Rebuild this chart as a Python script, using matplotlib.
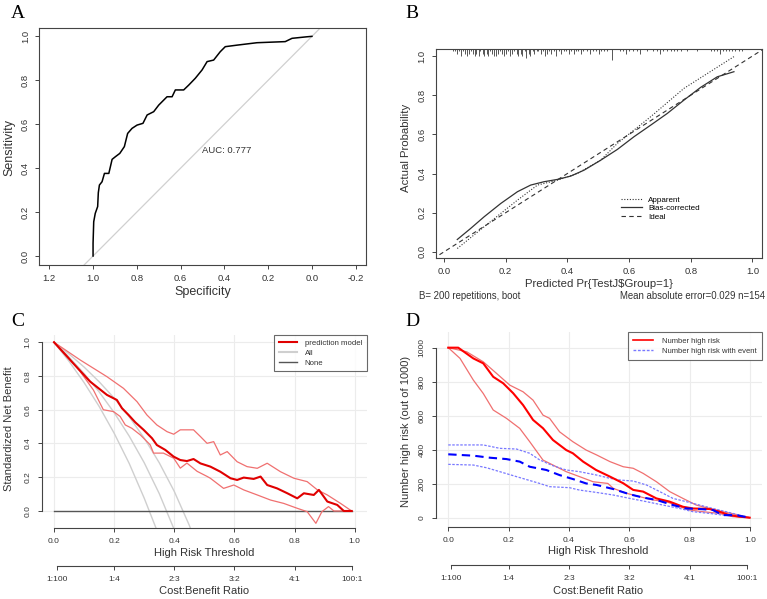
import numpy as np
import matplotlib.pyplot as plt
from matplotlib.transforms import blended_transform_factory

plt.rcParams['font.family'] = ['Liberation Sans', 'DejaVu Sans']

# ---- A: ROC curve ----
roc_spec = [1.0, 1.0, 0.997, 0.99, 0.979, 0.976, 0.971, 0.959, 0.948, 0.928, 0.913,
            0.898, 0.878, 0.857, 0.842, 0.822, 0.799, 0.772, 0.753, 0.723, 0.70, 0.677,
            0.662, 0.639, 0.624, 0.586, 0.563, 0.533, 0.502, 0.479, 0.449, 0.419, 0.396,
            0.342, 0.251, 0.122, 0.091, 0.023, 0.0]
roc_sens = [0.0, 0.058, 0.156, 0.194, 0.225, 0.288, 0.323, 0.338, 0.376, 0.376, 0.44,
            0.452, 0.467, 0.498, 0.558, 0.581, 0.596, 0.604, 0.642, 0.657, 0.687, 0.71,
            0.725, 0.725, 0.756, 0.756, 0.778, 0.809, 0.847, 0.885, 0.892, 0.93, 0.953,
            0.96, 0.971, 0.976, 0.991, 0.998, 1.0]
auc_label = "AUC: 0.777"

# ---- B: calibration curve ----
bias_x = [0.043, 0.086, 0.13, 0.184, 0.238, 0.281, 0.324, 0.368, 0.411, 0.454, 0.508,
          0.562, 0.616, 0.67, 0.724, 0.778, 0.832, 0.886, 0.94]
bias_y = [0.063, 0.119, 0.179, 0.247, 0.307, 0.341, 0.358, 0.37, 0.387, 0.417, 0.468,
          0.523, 0.588, 0.647, 0.707, 0.775, 0.84, 0.894, 0.92]
app_x = [0.043, 0.13, 0.238, 0.303, 0.368, 0.432, 0.508, 0.562, 0.67, 0.778, 0.94]
app_y = [0.017, 0.128, 0.264, 0.341, 0.366, 0.40, 0.468, 0.554, 0.69, 0.835, 0.997]
rug_pos = [0.030, 0.036, 0.042, 0.048, 0.055, 0.061, 0.067, 0.074, 0.080, 0.086, 0.093,
           0.099, 0.105, 0.112, 0.118, 0.125, 0.131, 0.138, 0.144, 0.150, 0.157, 0.163,
           0.170, 0.176, 0.183, 0.189, 0.196, 0.202, 0.209, 0.215, 0.222, 0.228, 0.235,
           0.241, 0.248, 0.254, 0.261, 0.267, 0.274, 0.280, 0.287, 0.293, 0.300, 0.306,
           0.313, 0.320, 0.327, 0.334, 0.341, 0.348, 0.356, 0.364, 0.372, 0.380, 0.388,
           0.396, 0.404, 0.412, 0.420, 0.428, 0.436, 0.444, 0.452, 0.462, 0.472, 0.482,
           0.492, 0.502, 0.510, 0.520, 0.530, 0.546, 0.571, 0.580, 0.590, 0.600, 0.612,
           0.625, 0.636, 0.657, 0.679, 0.690, 0.700, 0.710, 0.722, 0.735, 0.745, 0.756,
           0.768, 0.787, 0.820, 0.865, 0.875, 0.885, 0.895, 0.905, 0.915, 0.925, 0.935,
           0.945, 0.955, 0.965]
rug_cnt = [1, 1, 2, 1, 3, 1, 2, 3, 2, 1, 2, 3, 2, 3, 1, 2, 3, 2, 3, 1, 2, 3, 3, 2, 1, 2,
           3, 2, 1, 3, 2, 1, 2, 3, 2, 3, 1, 4, 2, 3, 1, 2, 1, 1, 2, 1, 3, 2, 1, 2, 1, 3,
           1, 2, 1, 1, 2, 1, 2, 1, 1, 2, 1, 1, 2, 1, 1, 2, 1, 1, 1, 5, 1, 1, 2, 1, 1, 1,
           2, 1, 1, 1, 2, 1, 1, 1, 1, 1, 1, 1, 1, 1, 1, 1, 2, 1, 1, 1, 1, 1, 1, 1]

# ---- C: decision curve ----
thr_all = [0.0, 0.05, 0.1, 0.15, 0.2, 0.25, 0.3, 0.35, 0.4, 0.45, 0.5]
snb_all_lo = [1.0, 0.887, 0.761, 0.62, 0.461, 0.282, 0.076, -0.15, None, None, None]
snb_all_mid = [1.0, 0.912, 0.815, 0.706, 0.583, 0.444, 0.286, 0.103, -0.111, None, None]
snb_all_hi = [1.0, 0.93, 0.853, 0.766, 0.669, 0.558, 0.432, 0.286, 0.116, -0.085, -0.33]

c_mid_t = [0.0, 0.064, 0.12, 0.176, 0.209, 0.226, 0.248, 0.27, 0.298, 0.326, 0.342, 0.37,
           0.398, 0.42, 0.442, 0.464, 0.487, 0.52, 0.553, 0.587, 0.609, 0.631, 0.664,
           0.687, 0.709, 0.742, 0.776, 0.809, 0.831, 0.864, 0.881, 0.909, 0.942, 0.964, 0.99]
c_mid_v = [1.0, 0.875, 0.767, 0.688, 0.658, 0.609, 0.569, 0.526, 0.481, 0.431, 0.391,
           0.362, 0.322, 0.302, 0.296, 0.308, 0.282, 0.263, 0.233, 0.194, 0.184, 0.198,
           0.19, 0.204, 0.154, 0.134, 0.105, 0.075, 0.105, 0.095, 0.125, 0.056, 0.036, 0.0, 0.0]
c_hi_t = [0.0, 0.087, 0.176, 0.231, 0.276, 0.309, 0.342, 0.376, 0.398, 0.42, 0.464,
          0.487, 0.509, 0.531, 0.553, 0.576, 0.609, 0.642, 0.676, 0.709, 0.753, 0.798,
          0.842, 0.876, 0.909, 0.953, 0.99]
c_hi_v = [1.0, 0.895, 0.796, 0.727, 0.648, 0.569, 0.51, 0.47, 0.455, 0.481, 0.481,
          0.441, 0.401, 0.411, 0.332, 0.352, 0.292, 0.263, 0.253, 0.283, 0.233, 0.194,
          0.174, 0.125, 0.095, 0.045, 0.0]
c_lo_t = [0.0, 0.042, 0.087, 0.131, 0.164, 0.198, 0.22, 0.237, 0.259, 0.287, 0.32, 0.331,
          0.364, 0.398, 0.42, 0.442, 0.476, 0.509, 0.52, 0.564, 0.598, 0.631, 0.676, 0.72,
          0.764, 0.809, 0.842, 0.871, 0.891, 0.913, 0.931, 0.99]
c_lo_v = [1.0, 0.924, 0.826, 0.717, 0.60, 0.589, 0.56, 0.51, 0.49, 0.451, 0.392, 0.343,
          0.343, 0.313, 0.254, 0.284, 0.235, 0.205, 0.194, 0.134, 0.154, 0.125, 0.095,
          0.065, 0.045, 0.016, -0.004, -0.073, -0.004, 0.026, 0.0, 0.0]

# ---- D: clinical impact curve ----
d_hr_t = [0.0, 0.033, 0.083, 0.116, 0.149, 0.182, 0.215, 0.248, 0.281, 0.314, 0.347,
          0.391, 0.413, 0.447, 0.49, 0.536, 0.58, 0.613, 0.646, 0.69, 0.734, 0.778,
          0.811, 0.866, 0.899, 0.932, 0.965, 0.999]
d_hr_v = [1000, 1000, 937, 908, 829, 791, 733, 663, 576, 527, 458, 399, 380, 331, 282,
          243, 204, 165, 155, 115, 96, 66, 56, 53, 37, 17, 8, 2]
d_hr_hi_t = [0.0, 0.061, 0.116, 0.16, 0.204, 0.248, 0.281, 0.314, 0.336, 0.369, 0.413,
             0.457, 0.492, 0.536, 0.58, 0.613, 0.646, 0.69, 0.734, 0.778, 0.822, 0.866,
             0.91, 0.954, 0.999]
d_hr_hi_v = [1000, 976, 917, 849, 780, 741, 692, 604, 585, 506, 448, 399, 370, 331, 301,
             292, 262, 213, 155, 115, 76, 56, 37, 21, 2]
d_hr_lo_t = [0.0, 0.039, 0.083, 0.116, 0.149, 0.193, 0.237, 0.27, 0.314, 0.347, 0.391,
             0.435, 0.48, 0.529, 0.547, 0.591, 0.635, 0.679, 0.723, 0.767, 0.8, 0.844,
             0.899, 0.943, 0.999]
d_hr_lo_v = [1000, 937, 810, 731, 634, 585, 526, 448, 340, 311, 272, 243, 213, 203, 174,
             145, 125, 106, 96, 66, 47, 37, 27, 8, 2]
d_ev_t = [0.0, 0.083, 0.138, 0.193, 0.237, 0.27, 0.325, 0.369, 0.413, 0.457, 0.492,
          0.547, 0.602, 0.646, 0.69, 0.745, 0.789, 0.833, 0.877, 0.91, 0.954, 0.999]
d_ev_v = [374, 366, 354, 346, 331, 301, 282, 252, 229, 203, 194, 170, 139, 120, 106, 76,
          56, 53, 47, 17, 17, 2]
d_ev_hi_t = [0.0, 0.116, 0.171, 0.226, 0.27, 0.303, 0.347, 0.391, 0.435, 0.492, 0.536,
             0.569, 0.613, 0.657, 0.701, 0.745, 0.789, 0.833, 0.877, 0.921, 0.965, 0.999]
d_ev_hi_v = [429, 429, 409, 405, 380, 341, 307, 282, 272, 252, 233, 223, 217, 194, 155,
             115, 96, 76, 56, 37, 17, 2]
d_ev_lo_t = [0.0, 0.083, 0.127, 0.171, 0.226, 0.303, 0.336, 0.402, 0.435, 0.492, 0.547,
             0.602, 0.657, 0.712, 0.767, 0.811, 0.866, 0.91, 0.965, 0.999]
d_ev_lo_v = [315, 311, 295, 272, 243, 203, 184, 178, 164, 150, 135, 115, 96, 76, 56, 37,
             27, 17, 8, 2]

thr_ticks = [0.0, 0.2, 0.4, 0.6, 0.8, 1.0]
cb_pos = [1 / 101, 0.2, 0.4, 0.6, 0.8, 100 / 101]
cb_labels = ["1:100", "1:4", "2:3", "3:2", "4:1", "100:1"]

W, H = 767, 599
fig = plt.figure(figsize=(W / 100, H / 100), dpi=100)


def box(l, t, r, b):
    return [l / W, 1 - b / H, (r - l) / W, (b - t) / H]


def ftext(x, y, s, **kw):
    fig.text(x / W, 1 - y / H, s, **kw)


AX = '#444444'
TXT = '#333333'


def rot_yticks(ax):
    for lab in ax.get_yticklabels():
        lab.set_rotation(90)
        lab.set_va('center')


# ---------- panel A ----------
axA = fig.add_axes(box(39, 28, 366, 265))
axA.plot([1.1, -0.1], [-0.1, 1.1], color='#d0d0d0', lw=0.9)
axA.plot(roc_spec, roc_sens, color='black', lw=1.1)
axA.set_xlim(1.247, -0.247)
axA.set_ylim(-0.041, 1.038)
axA.set_xticks([1.2, 1.0, 0.8, 0.6, 0.4, 0.2, 0.0, -0.2])
axA.set_xticklabels(["1.2", "1.0", "0.8", "0.6", "0.4", "0.2", "0.0", "-0.2"])
axA.set_yticks([0, 0.2, 0.4, 0.6, 0.8, 1.0])
axA.set_yticklabels(["0.0", "0.2", "0.4", "0.6", "0.8", "1.0"])
axA.text(0.5, 0.48, auc_label, fontsize=6.8, color=TXT, ha='left', va='center')
ftext(203, 292, "Specificity", fontsize=9, ha='center', va='center', color=TXT)
ftext(9.5, 147, "Sensitivity", fontsize=9, ha='center', va='center', rotation=90, color=TXT)

# ---------- panel B ----------
axB = fig.add_axes(box(435.7, 49, 762, 257.7))
axB.plot([-0.1, 1.1], [-0.1, 1.1], color='#333333', lw=0.8, ls=(0, (4, 3)))
axB.plot(app_x, app_y, color='#333333', lw=0.8, ls=(0, (1, 1.5)))
axB.plot(bias_x, bias_y, color='#333333', lw=0.9)
trB = blended_transform_factory(axB.transData, axB.transAxes)
axB.vlines(rug_pos, 1 - np.array(rug_cnt) * 0.011, 1, transform=trB,
           color='#555555', lw=0.7)
axB.set_xlim(-0.027, 1.031)
axB.set_ylim(-0.03, 1.036)
axB.set_xticks([0, 0.2, 0.4, 0.6, 0.8, 1.0])
axB.set_xticklabels(["0.0", "0.2", "0.4", "0.6", "0.8", "1.0"])
axB.set_yticks([0, 0.2, 0.4, 0.6, 0.8, 1.0])
axB.set_yticklabels(["0.0", "0.2", "0.4", "0.6", "0.8", "1.0"])
axB.legend(handles=[plt.Line2D([], [], color='#333333', lw=0.8, ls=(0, (1, 1.5))),
                    plt.Line2D([], [], color='#333333', lw=0.9),
                    plt.Line2D([], [], color='#333333', lw=0.8, ls=(0, (4, 3)))],
           labels=["Apparent", "Bias-corrected", "Ideal"], frameon=False,
           fontsize=5.8, loc='upper left', bbox_to_anchor=(0.555, 0.315),
           handlelength=2.6, labelspacing=0.1, handletextpad=0.8, borderpad=0)
ftext(599, 284, "Predicted Pr{TestJ$Group=1}", fontsize=8.2, ha='center', va='center', color=TXT)
ftext(405.7, 148, "Actual Probability", fontsize=8.2, ha='center', va='center',
      rotation=90, color=TXT)
ftext(419, 296, "B= 200 repetitions, boot", fontsize=6.9, ha='left', va='center', color=TXT)
ftext(765, 296, "Mean absolute error=0.029 n=154", fontsize=6.9, ha='right',
      va='center', color=TXT)

for ax in (axA, axB):
    for s in ax.spines.values():
        s.set_color(AX)
        s.set_linewidth(0.8)
    ax.tick_params(direction='out', length=3, width=0.7, color=AX, labelsize=6.8,
                   labelcolor=TXT, pad=3.5)
    rot_yticks(ax)


# ---------- panels C and D ----------
def dca_axes(ax, ymax_val, yticks, ylabs):
    ax.grid(True, color='#ececec', lw=0.8)
    ax.set_axisbelow(True)
    for k in ('top', 'right'):
        ax.spines[k].set_visible(False)
    ax.spines['left'].set_bounds(0, ymax_val)
    ax.spines['bottom'].set_bounds(0, 1)
    for k in ('left', 'bottom'):
        ax.spines[k].set_color(AX)
        ax.spines[k].set_linewidth(0.8)
    ax.set_xticks(thr_ticks)
    ax.set_xticklabels(["0.0", "0.2", "0.4", "0.6", "0.8", "1.0"])
    ax.set_yticks(yticks)
    ax.set_yticklabels(ylabs)
    ax.set_xlim(-0.04, 1.04)
    ax.tick_params(direction='out', length=3, width=0.7, color=AX, labelsize=6,
                   labelcolor=TXT, pad=4.5)
    rot_yticks(ax)
    pos = ax.get_position()
    loc = -38 / (pos.height * H)
    sec = ax.secondary_xaxis(loc)
    sec.set_xticks(cb_pos)
    sec.set_xticklabels(cb_labels)
    sec.spines['bottom'].set_bounds(cb_pos[0], cb_pos[-1])
    sec.spines['bottom'].set_color(AX)
    sec.spines['bottom'].set_linewidth(0.8)
    sec.tick_params(direction='out', length=3, width=0.7, color=AX, labelsize=6,
                    labelcolor=TXT, pad=4.5)


axC = fig.add_axes(box(42, 335, 366.7, 527.7))
axC.set_ylim(-0.099, 1.043)
gray = '#cfcfcf'
axC.plot(thr_all, snb_all_lo, color=gray, lw=1.0)
axC.plot(thr_all, snb_all_mid, color=gray, lw=1.0)
axC.plot(thr_all, snb_all_hi, color=gray, lw=1.0)
axC.plot([0, 0.99], [0, 0], color='#555555', lw=1.0)
axC.plot(c_hi_t, c_hi_v, color='#f07070', lw=0.9)
axC.plot(c_lo_t, c_lo_v, color='#f07070', lw=0.9)
axC.plot(c_mid_t, c_mid_v, color='#e00000', lw=1.5)
dca_axes(axC, 1.0, [0, 0.2, 0.4, 0.6, 0.8, 1.0], ["0.0", "0.2", "0.4", "0.6", "0.8", "1.0"])
legC = axC.legend(handles=[plt.Line2D([], [], color='#e00000', lw=1.5),
                           plt.Line2D([], [], color=gray, lw=1.5),
                           plt.Line2D([], [], color='#555555', lw=1.0)],
                  labels=["prediction model", "All", "None"], loc='upper right',
                  fontsize=5.6, fancybox=False, borderaxespad=0, handlelength=2.3,
                  labelspacing=0.3, borderpad=0.6, handletextpad=1.0)
legC.get_frame().set_edgecolor('#444444')
legC.get_frame().set_linewidth(0.8)
for t in legC.get_texts():
    t.set_color(TXT)
ftext(204, 553.3, "High Risk Threshold", fontsize=8, ha='center', va='center', color=TXT)
ftext(204, 591, "Cost:Benefit Ratio", fontsize=8, ha='center', va='center', color=TXT)
ftext(9.5, 429, "Standardized Net Benefit", fontsize=8, ha='center', va='center',
      rotation=90, color=TXT)

axD = fig.add_axes(box(436.2, 332, 762, 526.7))
axD.set_ylim(-51, 1092)
axD.plot(d_hr_hi_t, d_hr_hi_v, color='#f07070', lw=0.9)
axD.plot(d_hr_lo_t, d_hr_lo_v, color='#f07070', lw=0.9)
axD.plot(d_ev_hi_t, d_ev_hi_v, color='#7878ff', lw=0.9, ls=(0, (2, 1.2)))
axD.plot(d_ev_lo_t, d_ev_lo_v, color='#7878ff', lw=0.9, ls=(0, (2, 1.2)))
axD.plot(d_hr_t, d_hr_v, color='#ff0000', lw=1.5)
axD.plot(d_ev_t, d_ev_v, color='#0000ff', lw=1.5, ls=(0, (4, 2.5)))
dca_axes(axD, 1000, [0, 200, 400, 600, 800, 1000], ["0", "200", "400", "600", "800", "1000"])
legD = axD.legend(handles=[plt.Line2D([], [], color='#ff0000', lw=1.2),
                           plt.Line2D([], [], color='#7878ff', lw=1.0, ls=(0, (2, 1.2)))],
                  labels=["Number high risk", "Number high risk with event"],
                  loc='upper right', fontsize=5.5, fancybox=False, borderaxespad=0,
                  handlelength=2.6, labelspacing=0.35, borderpad=0.7, handletextpad=1.2)
legD.get_frame().set_edgecolor('#444444')
legD.get_frame().set_linewidth(0.8)
for t in legD.get_texts():
    t.set_color(TXT)
ftext(598.5, 550.7, "High Risk Threshold", fontsize=8, ha='center', va='center', color=TXT)
ftext(598, 591, "Cost:Benefit Ratio", fontsize=8, ha='center', va='center', color=TXT)
ftext(405.7, 431.7, "Number high risk (out of 1000)", fontsize=8, ha='center',
      va='center', rotation=90, color=TXT)

# panel letters
for x, y, s in [(11, 5, "A"), (405, 5, "B"), (11, 313, "C"), (405, 313, "D")]:
    ftext(x, y, s, fontsize=14, family='Liberation Serif', ha='left', va='top')

fig.savefig('out.png', dpi=100)
